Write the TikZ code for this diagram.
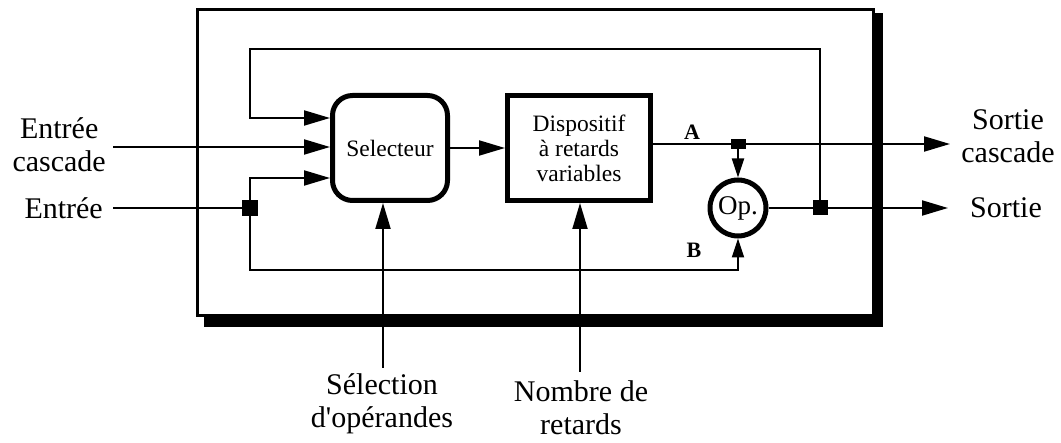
\documentclass[tikz,border=0pt]{standalone}
\usepackage{fontspec}
\setmainfont{Liberation Serif}
\usetikzlibrary{arrows.meta,positioning}

\begin{document}
\begin{tikzpicture}[
    x=1pt, y=-1pt,
    wire/.style={line width=2pt, draw=black},
    arrow/.style={wire, -{Triangle[length=26pt, width=15pt]}},
    smallarrow/.style={wire, -{Triangle[length=19pt, width=12pt]}},
    block/.style={draw, line width=5pt, align=center, inner sep=0pt,
        font=\fontsize{23.5}{25}\selectfont},
    selector/.style={block, rounded corners=20pt, minimum width=115pt, minimum height=105pt},
    delayline/.style={block, minimum width=143pt, minimum height=105pt},
    operator/.style={draw, circle, line width=5pt, minimum size=56pt, inner sep=0pt,
        font=\fontsize{27}{27}\selectfont},
    junction/.style={fill=black, minimum size=15pt, inner sep=0pt},
    iolabel/.style={align=center, font=\fontsize{30}{33}\selectfont, inner sep=0pt},
    portlabel/.style={font=\bfseries\fontsize{22}{22}\selectfont, inner sep=0pt}
]
\useasboundingbox (0,0) rectangle (1061,443);
% boitier et son ombre
\fill (204,13) rectangle (883,327);
\draw[line width=3pt, fill=white] (197,10) rectangle (873,316);
% blocs
\node[selector] (sel) at (390,148) {Selecteur};
\node[delayline] (dly) at (579,148) {Dispositif\\à retards\\variables};
\node[operator] (op) at (738,208) {Op.};
% points de jonction
\node[junction, minimum size=16pt] (jin) at (250,208) {};
\node[junction, minimum height=10pt] (ja) at (738,144) {};
\node[junction] (jout) at (820,208) {};
% entrees et sorties
\node[iolabel, anchor=east] (incasc) at (106,145) {Entrée\\cascade};
\node[iolabel, anchor=east] (in) at (103,208) {Entrée};
\node[iolabel] (outcasc) at (1008,136) {Sortie\\cascade};
\node[iolabel] (out) at (1006,208) {Sortie};
\node[iolabel] (selop) at (382,404) {Sélection\\d\textquotesingle opérandes};
\node[iolabel] (nbret) at (581,408) {Nombre de\\retards};
\node[portlabel] (pa) at (692,132) {A};
\node[portlabel] (pb) at (694,250) {B};
\coordinate (incascstart) at (113,147);
\coordinate (instart) at (113,208);
\coordinate (outcascend) at (950,144);
\coordinate (outend) at (948,208);
\coordinate (selopstart) at (383,368);
\coordinate (nbretstart) at (580,372);
% connexions
\draw[arrow] (incascstart) -- (incascstart -| sel.west);
\draw[wire] (instart) -- (jin.center);
\draw[arrow] (jin.center) |- ([yshift=-30pt]sel.west);
\draw[smallarrow] (jin.center) -- ++(0,62) -| (op.south);
\draw[arrow] (jout.center) |- (250,49) |- ([yshift=30pt]sel.west);
\draw[arrow] (sel.east) -- (sel.east -| dly.west);
\draw[arrow] (dly.east |- ja) -- (outcascend);
\draw[smallarrow] (ja.center) -- (op.north);
\draw[arrow] (op.east) -- (outend);
\draw[arrow] (selopstart) -- (selopstart |- sel.south);
\draw[arrow] (nbretstart) -- (nbretstart |- dly.south);
\end{tikzpicture}
\end{document}
